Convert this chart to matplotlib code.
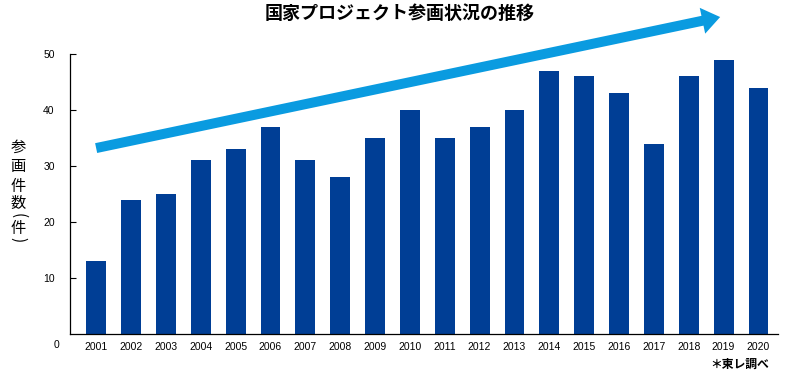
import matplotlib.pyplot as plt

plt.rcParams['font.family'] = ['Noto Sans CJK JP', 'DejaVu Sans']

years = [str(y) for y in range(2001, 2021)]
counts = [13, 24, 25, 31, 33, 37, 31, 28, 35, 40, 35, 37, 40, 47, 46, 43, 34, 46, 49, 44]
y_ticks = [10, 20, 30, 40, 50]

# trend arrow, in data units (index, count)
arrow_start = (0.0, 33.2)
arrow_end = (17.9, 56.6)

bar_color = '#003E95'
arrow_color = '#0A9BE0'

fig = plt.figure(figsize=(8, 3.76), dpi=100)
ax = fig.add_axes([0.0875, 0.1117, 0.885, 0.7447])

x = list(range(len(years)))
ax.bar(x, counts, width=0.57, color=bar_color, zorder=2)

ax.set_xlim(-0.75, len(years) - 1 + 0.56)
ax.set_ylim(0, 50)

ax.set_xticks(x)
ax.set_xticklabels(years, fontfamily='Liberation Sans', fontsize=7.5)
ax.set_yticks(y_ticks)
ax.set_yticklabels([str(t) for t in y_ticks], fontfamily='Liberation Sans', fontsize=7.5)
ax.tick_params(axis='x', length=0, pad=5.5)
ax.tick_params(axis='y', direction='in', length=4, width=0.8, pad=11)

for s in ['top', 'right']:
    ax.spines[s].set_visible(False)
for s in ['left', 'bottom']:
    ax.spines[s].set_linewidth(0.9)

# zero label sits on the year row
ax.text(-1.05, -2.0, '0', ha='right', va='center', fontfamily='Liberation Sans',
        fontsize=7.5, clip_on=False)

ax.annotate('', xy=arrow_end, xytext=arrow_start, annotation_clip=False,
            arrowprops=dict(arrowstyle='simple,head_width=1.9,head_length=1.3,tail_width=0.72',
                            mutation_scale=10, color=arrow_color, lw=0, shrinkA=0, shrinkB=0),
            zorder=3)

fig.text(0.5, 0.965, '国家プロジェクト参画状況の推移', ha='center', va='center',
         fontsize=13, fontweight='bold')

# vertical y label, one character at a time (pixel rows from the top)
label_chars = ['参', '画', '件', '数', '(', '件', ')']
label_rows = [147, 167, 187, 204, 216, 228, 240]
for ch, row in zip(label_chars, label_rows):
    rot = 270 if ch in '()' else 0
    fig.text(18 / 800, 1 - row / 376, ch, ha='center', va='center', fontsize=11,
             rotation=rot)

fig.text(0.925, 0.032, '＊東レ調べ', ha='center', va='center', fontsize=8.5,
         fontweight='bold')

fig.savefig('out.png', dpi=100)
